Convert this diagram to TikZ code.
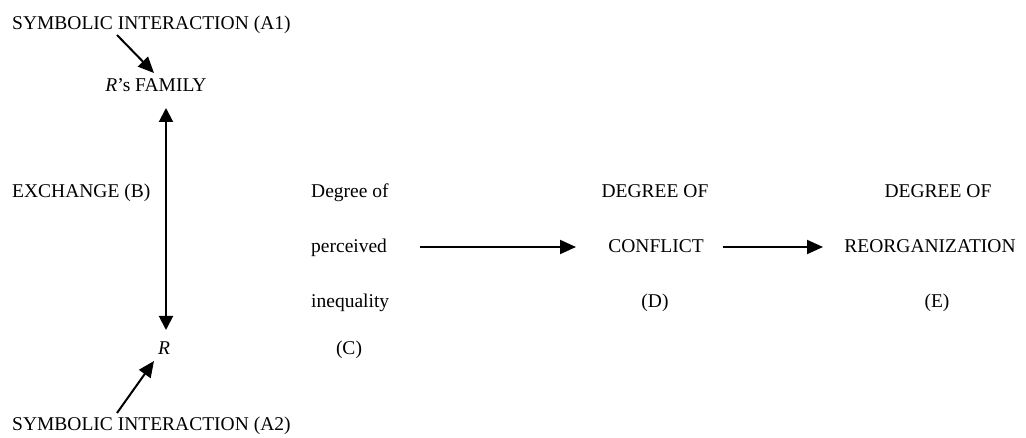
\documentclass[tikz,border=0pt]{standalone}
\usepackage{fontspec}
\setmainfont{Liberation Serif}
\usetikzlibrary{arrows.meta}
\begin{document}
\begin{tikzpicture}[x=1pt,y=-1pt,
  lbl/.style={inner sep=0pt,anchor=base,font=\fontsize{19.5}{22}\selectfont},
  lbll/.style={lbl,anchor=base west},
  arr/.style={line width=2pt,-{Triangle[length=16pt,width=14pt]}},
  darr/.style={line width=2pt,{Triangle[length=14pt,width=14pt]}-{Triangle[length=14pt,width=14pt]}}]
\useasboundingbox (0,0) rectangle (1026,438);
% labels
\node[lbll] (sa1) at (12,30) {SYMBOLIC INTERACTION (A1)};
\node[lbl] (rf) at (156,92) {\textit{R}’s FAMILY};
\node[lbll] (ex) at (12,198) {EXCHANGE (B)};
\node[lbl] (r) at (164,355) {\textit{R}};
\node[lbll] (sa2) at (12,431) {SYMBOLIC INTERACTION (A2)};
\node[lbll] (c1) at (311,198) {Degree of};
\node[lbll] (c2) at (311,253) {perceived};
\node[lbll] (c3) at (311,308) {inequality};
\node[lbl] (c4) at (349,355) {(C)};
\node[lbl] (d1) at (655,198) {DEGREE OF};
\node[lbl] (d2) at (656,253) {CONFLICT};
\node[lbl] (d3) at (655,308) {(D)};
\node[lbl] (e1) at (938,198) {DEGREE OF};
\node[lbl] (e2) at (930,253) {REORGANIZATION};
\node[lbl] (e3) at (937,308) {(E)};
% connector end points
\coordinate (a1s) at (117,35);
\coordinate (a1e) at (154,73);
\coordinate (a2s) at (117,413);
\coordinate (a2e) at (154,361);
\coordinate (vt) at (166,108);
\coordinate (vb) at (166,330);
\coordinate (h1s) at (420,247);
\coordinate (h1e) at (576,247);
\coordinate (h2s) at (723,247);
\coordinate (h2e) at (823,247);
% connectors
\draw[arr] (a1s) -- (a1e);
\draw[arr] (a2s) -- (a2e);
\draw[darr] (vt) -- (vb);
\draw[arr] (h1s) -- (h1e);
\draw[arr] (h2s) -- (h2e);
\end{tikzpicture}
\end{document}
